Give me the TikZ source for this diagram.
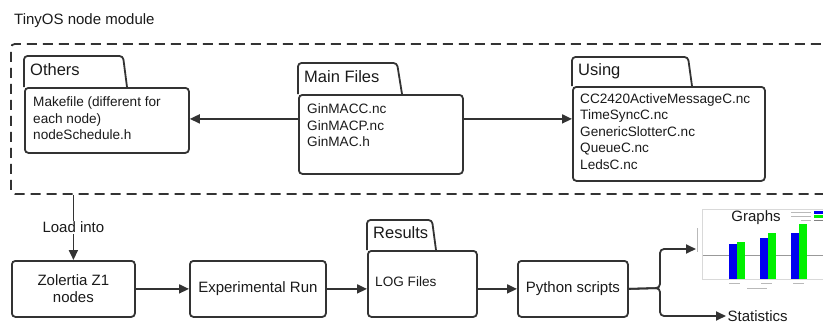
\documentclass[tikz,border=0pt]{standalone}
\usepackage{fontspec}
\setmainfont{Liberation Sans}
\usetikzlibrary{arrows.meta}
\definecolor{ln}{HTML}{333333}
\definecolor{tx}{HTML}{1A1A1A}
\definecolor{bbar}{HTML}{0000F0}
\definecolor{gbar}{HTML}{00F000}
\begin{document}
\begin{tikzpicture}[x=1pt,y=-1pt,
  box/.style={draw=ln, line width=1.8pt, rounded corners=3.5pt, anchor=north west, inner sep=0pt},
  tabshape/.style={draw=ln, line width=1.8pt, rounded corners=3.5pt},
  arr/.style={draw=ln, line width=1.8pt, -{Triangle[length=10pt,width=9pt]}},
  ttl/.style={font=\fontsize{16.5}{19}\selectfont, text=tx, anchor=base west, inner sep=0pt},
  body/.style={font=\fontsize{13.6}{16.5}\selectfont, text=tx, align=left, anchor=north west, inner sep=0pt},
  big/.style={font=\fontsize{15}{17}\selectfont, text=tx, align=center},
  faint/.style={draw=gray!55, line width=1pt},
]
\useasboundingbox (0,0) rectangle (823,325);
\clip (0,0) rectangle (823,325);

% module container
\node[anchor=base west, font=\fontsize{15}{17}\selectfont, text=tx, inner sep=0pt] (title) at (14,24.7) {TinyOS node module};
\node[draw=ln, line width=1.8pt, dash pattern=on 10pt off 6pt, rounded corners=4pt, anchor=north west, minimum width=830pt, minimum height=150pt, inner sep=0pt] (module) at (10,43) {};

% Others folder
\node[box, minimum width=164pt, minimum height=65pt] (others) at (24,87) {};
\draw[tabshape] (24,87) -- (24,56) -- (123,56) -- (127,87);
\node[ttl] (othersT) at (30,75.9) {Others};
\node[body] (othersB) at (33,96.6) {Makefile (different for\\each node)\\nodeSchedule.h};

% Main Files folder
\node[box, minimum width=164pt, minimum height=79pt] (main) at (298,94) {};
\draw[tabshape] (298,94) -- (298,63) -- (397,63) -- (402,94);
\node[ttl] (mainT) at (304,82.6) {Main Files};
\node[body] (mainB) at (307,103.5) {GinMACC.nc\\GinMACP.nc\\GinMAC.h};

% Using folder
\node[box, minimum width=192pt, minimum height=94pt] (using) at (572,86) {};
\draw[tabshape] (572,86) -- (572,57) -- (688,57) -- (692,86);
\node[ttl] (usingT) at (578,75) {Using};
\node[body] (usingB) at (580,93.3) {CC2420ActiveMessageC.nc\\TimeSyncC.nc\\GenericSlotterC.nc\\QueueC.nc\\LedsC.nc};

\coordinate (ml) at ([yshift=15.5pt]main.west);
\coordinate (mr) at ([yshift=15.5pt]main.east);
\draw[arr] (ml) -- (others.east |- ml);
\draw[arr] (mr) -- (using.west |- mr);

% bottom row
\node[box, minimum width=123pt, minimum height=56pt, big] (zol) at (11,260) {Zolertia Z1\\nodes};
\node[box, minimum width=136pt, minimum height=56pt, big] (exp) at (189,260) {Experimental Run};
\node[box, minimum width=109pt, minimum height=66pt] (results) at (367,250) {};
\draw[tabshape] (367,250) -- (367,220) -- (432,220) -- (436,250);
\node[ttl] (resultsT) at (373,238.6) {Results};
\node[font=\fontsize{13.6}{16.5}\selectfont, text=tx, anchor=west, inner sep=0pt] (logs) at (375,282) {LOG Files};
\node[box, minimum width=110pt, minimum height=56pt, big] (py) at (517,260) {Python scripts};

\draw[arr] (module.south -| zol.north) -- node[fill=white, big, inner sep=1pt] (load) {Load into} (zol.north);
\draw[arr] (zol.east) -- (exp.west);
\draw[arr] (exp.east) -- (results.west |- exp.east);
\draw[arr] (results.east |- py.west) -- (py.west);

% graph picture
\node[draw=gray!30, line width=0.6pt, anchor=north west, minimum width=130pt, minimum height=70pt, inner sep=0pt] (graph) at (702,209) {};
\draw[gray!80, line width=0.8pt] (703,255) -- (823,255);
\fill[bbar] (729,244) rectangle (737,279);
\fill[gbar] (737,242) rectangle (745,279);
\fill[bbar] (760,238) rectangle (768,279);
\fill[gbar] (768,233) rectangle (776,279);
\fill[bbar] (791,233) rectangle (799,279);
\fill[gbar] (799,224) rectangle (807,279);
\node[big] (graphs) at (756,218) {Graphs};
\fill[bbar] (814,211) rectangle (823,214);
\fill[gbar] (814,215) rectangle (823,218);
\draw[gray, line width=0.8pt] (814,220.5) -- (823,220.5);
\draw[faint] (791,212.5) -- (811,212.5);
\draw[faint] (791,216.5) -- (811,216.5);
\draw[faint] (801,220.5) -- (811,220.5);
\draw[faint] (697,228) -- (697,252);
\draw[faint] (729,283) -- (740,283);
\draw[faint] (761,283) -- (772,283);
\draw[faint] (793,283) -- (804,283);
\draw[faint] (747,288) -- (767,288);

% branch to outputs
\coordinate (br) at (660,288);
\coordinate (gin) at (696,249);
\node[big, anchor=west, inner sep=1.5pt] (stat) at (726,316) {Statistics};
\draw[arr, rounded corners=4pt] (py.east) -- (br) |- (gin);
\draw[arr, rounded corners=4pt] (py.east) -- (br) |- (stat.west);
\end{tikzpicture}
\end{document}
